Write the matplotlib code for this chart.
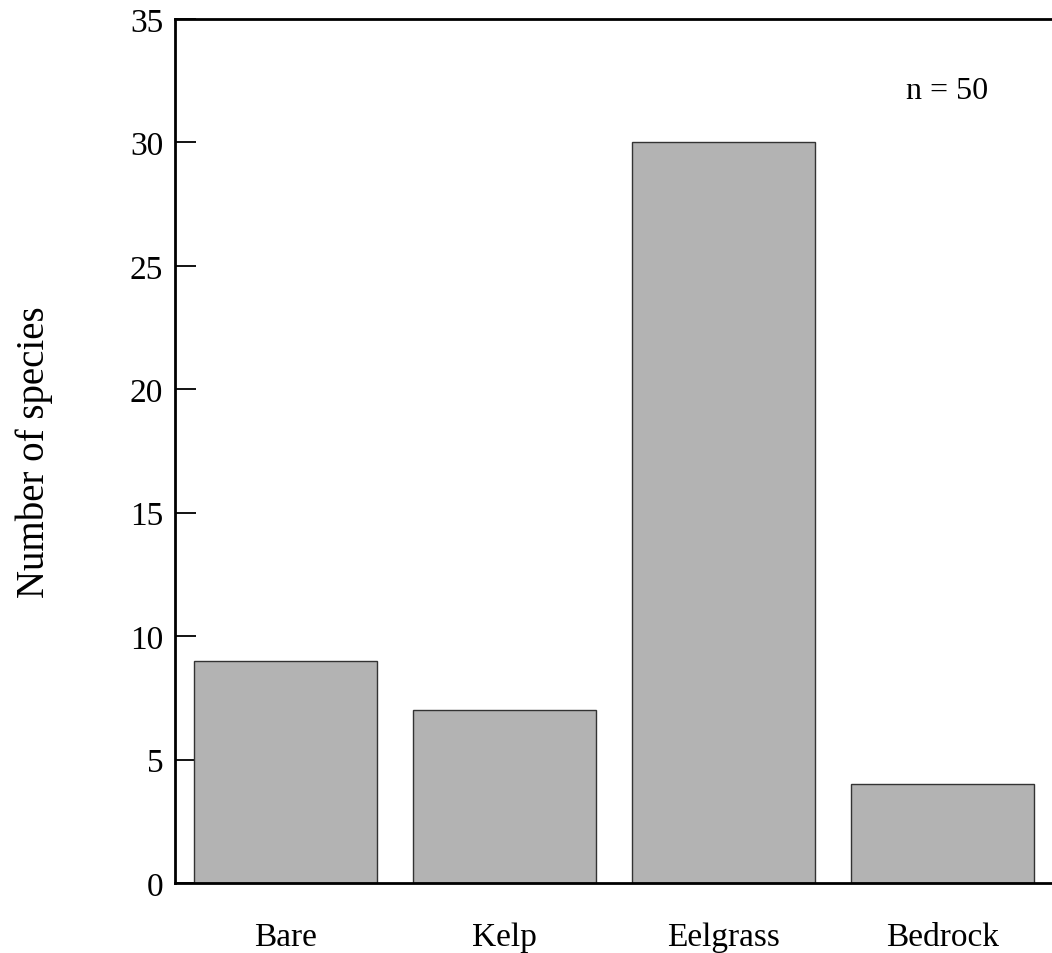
import matplotlib
matplotlib.use("Agg")
import matplotlib.pyplot as plt

categories = ["Bare", "Kelp", "Eelgrass", "Bedrock"]
species = [9, 7, 30, 4]
yticks = [0, 5, 10, 15, 20, 25, 30, 35]

plt.rcParams['font.family'] = ['Liberation Serif', 'DejaVu Serif']

fig = plt.figure(figsize=(10.52, 9.54), dpi=100)
ax = fig.add_axes([175/1052, 1-884/954, 1-175/1052, (884-20)/954])

x = list(range(len(categories)))
ax.bar(x, species, width=0.835, color='#b3b3b3', edgecolor='#333333', linewidth=1.0, zorder=2)

ax.set_xlim(-0.505, 3.5)
ax.set_ylim(0, 35)
ax.set_yticks(yticks)
ax.set_yticklabels([str(v) for v in yticks])
ax.set_xticks(x)
ax.set_xticklabels(categories)

ax.tick_params(axis='y', direction='in', length=15, width=1.3, labelsize=24, pad=8.5)
ax.tick_params(axis='x', length=0, labelsize=24, pad=28)

for s in ['left', 'bottom', 'top']:
    ax.spines[s].set_linewidth(2)
ax.spines['right'].set_visible(False)

ax.set_ylabel("Number of species", fontsize=28)
ax.yaxis.set_label_coords(-0.139, 0.5)

ax.text(3.02, 32.1, "n = 50", ha='center', va='center', fontsize=23)

fig.savefig("out.png", dpi=100)
